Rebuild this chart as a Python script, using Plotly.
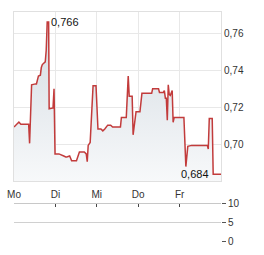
import plotly.graph_objects as go

# x positions in trading-day units (0 = Monday start, 5 = end of Friday)
days = [0.000, 0.118, 0.165, 0.354, 0.377, 0.425, 0.519, 0.542, 0.590, 0.637,
        0.660, 0.684, 0.755, 0.778, 0.802, 0.837, 0.849, 0.943, 0.967, 0.991,
        1.085, 1.156, 1.203, 1.250, 1.274, 1.344, 1.392, 1.509, 1.580, 1.698,
        1.745, 1.769, 1.792, 1.840, 1.887, 1.910, 1.981, 2.028, 2.099, 2.146,
        2.193, 2.264, 2.335, 2.382, 2.571, 2.594, 2.712, 2.759, 2.783, 2.854,
        2.877, 2.901, 2.948, 3.042, 3.090, 3.325, 3.349, 3.491, 3.514, 3.608,
        3.632, 3.656, 3.679, 3.703, 3.726, 3.750, 3.774, 3.821, 3.844, 3.868,
        4.104, 4.151, 4.198, 4.292, 4.670, 4.693, 4.717, 4.788, 4.811, 5.000]
prices = [0.7095, 0.7122, 0.7110, 0.7110, 0.7007, 0.7322, 0.7327, 0.7327, 0.7369, 0.7374,
          0.7415, 0.7431, 0.7446, 0.7508, 0.7660, 0.7660, 0.7193, 0.7198, 0.7301, 0.6950,
          0.6950, 0.6945, 0.6939, 0.6934, 0.6934, 0.6939, 0.6913, 0.6913, 0.6960, 0.6960,
          0.6950, 0.6908, 0.6996, 0.7012, 0.7276, 0.7317, 0.7317, 0.7084, 0.7084, 0.7074,
          0.7084, 0.7105, 0.7105, 0.7095, 0.7095, 0.7146, 0.7146, 0.7369, 0.7260, 0.7260,
          0.7053, 0.7095, 0.7177, 0.7177, 0.7276, 0.7276, 0.7301, 0.7301, 0.7281, 0.7281,
          0.7291, 0.7250, 0.7250, 0.7131, 0.7322, 0.7270, 0.7265, 0.7291, 0.7120, 0.7146,
          0.7146, 0.6882, 0.6991, 0.6996, 0.6996, 0.6976, 0.7141, 0.7141, 0.6840, 0.6840]

day_ticks = [0, 1, 2, 3, 4, 5]
day_labels = ["Mo", "Di", "Mi", "Do", "Fr", ""]
price_ticks = [0.68, 0.70, 0.72, 0.74, 0.76]
vol_ticks = [0, 5, 10]

max_i = prices.index(max(prices))
min_i = len(prices) - 2

fig = go.Figure()
fig.add_trace(go.Scatter(
    x=days, y=prices, mode="lines",
    line=dict(color="#c23b3b", width=1.5),
    fill="tozeroy",
    fillgradient=dict(type="vertical",
                      colorscale=[[0, "#f9fafb"], [1, "#d3dbe2"]],
                      start=0.68, stop=0.77),
    xaxis="x", yaxis="y", hoverinfo="skip", showlegend=False))
# empty volume panel
fig.add_trace(go.Scatter(x=[None], y=[None], xaxis="x2", yaxis="y2", showlegend=False))

font = dict(family="Liberation Sans, Arial, sans-serif", size=10, color="#333")

fig.add_annotation(x=days[max_i], y=prices[max_i], xref="x", yref="y",
                   text=f"{prices[max_i]:.3f}".replace(".", ","), showarrow=False,
                   xanchor="left", yanchor="middle", xshift=2,
                   font=dict(family=font["family"], size=11, color="#111"))
fig.add_annotation(x=days[min_i], y=prices[min_i], xref="x", yref="y",
                   text=f"{prices[min_i]:.3f}".replace(".", ","), showarrow=False,
                   xanchor="right", yanchor="middle", xshift=-2,
                   font=dict(family=font["family"], size=11, color="#111"))

fig.update_layout(
    width=264, height=255,
    margin=dict(l=9, r=43, t=7, b=8),
    paper_bgcolor="white", plot_bgcolor="white",
    separators=",.",
    font=font,
    xaxis=dict(domain=[0, 1], range=[0, 5], tickvals=day_ticks, ticktext=day_labels,
               showgrid=True, gridcolor="#e8e8e8", gridwidth=1,
               showline=True, linecolor="#e0e0e0", mirror=True,
               ticks="outside", ticklen=4, tickcolor="rgba(0,0,0,0)",
               zeroline=False, anchor="y", tickfont=font),
    yaxis=dict(domain=[0.265, 1.0], range=[0.6804, 0.7714], side="right",
               tickvals=price_ticks, tickformat=".2f",
               showgrid=True, gridcolor="#e8e8e8", gridwidth=1,
               showline=True, linecolor="#e0e0e0", mirror=True,
               ticks="", zeroline=False, anchor="x", tickfont=font),
    xaxis2=dict(domain=[0, 1], range=[0, 5], tickvals=day_ticks[:-1],
                showticklabels=False, showgrid=False, side="top",
                showline=True, linecolor="#c8c8c8",
                ticks="inside", ticklen=3, tickcolor="#444",
                zeroline=False, anchor="y2"),
    yaxis2=dict(domain=[0, 0.1667], range=[0, 10], side="right",
                tickvals=vol_ticks, showgrid=True, gridcolor="#d0d0d0",
                ticks="outside", ticklen=4, tickcolor="#555",
                zeroline=False, showline=False, anchor="x2", tickfont=font),
)

fig.write_html("out.html")
